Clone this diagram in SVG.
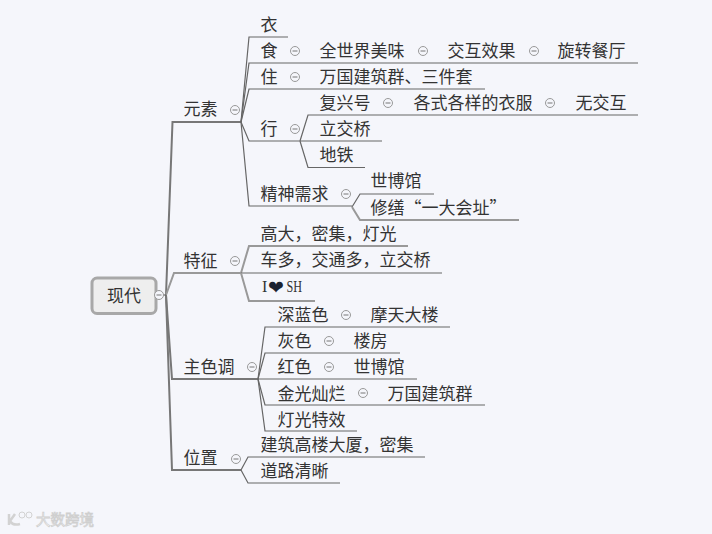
<svg xmlns="http://www.w3.org/2000/svg" width="712" height="534" viewBox="0 0 712 534">
<style>
text{font-family:"Noto Sans CJK SC","Liberation Sans",sans-serif;font-size:17px;fill:#333}
.c{fill:none;stroke:#666;stroke-width:1.2}
.g{fill:none;stroke:#999;stroke-width:2}
.m{fill:none;stroke:#777;stroke-width:2}
.k{fill:#f5f6fb;stroke:#999;stroke-width:1}
.k2{fill:none;stroke:#777;stroke-width:1}
</style>
<defs>
<g id="col"><circle r="4.5" class="k"/><path d="M-2.500 0H2.500" class="k2"/></g>
</defs>
<rect width="712" height="534" fill="#f5f6fb"/>
<g id="connectors">
<path class="m" d="M166 295L172.500 122H241"/>
<path class="g" d="M166 295L174 273H241"/>
<path class="m" d="M166 295L172 379H258"/>
<path class="m" d="M166 295L172 470H241"/>
<path class="c" d="M160 295H166"/>
<path class="c" d="M241 122L249 37H288"/>
<path class="c" d="M241 122L249 63H638"/>
<path class="c" d="M241 122L249 89H485"/>
<path class="c" d="M241 122L249 141H300"/>
<path class="c" d="M241 122L249 206H352"/>
<path class="c" d="M300 141L308 115H638"/>
<path class="c" d="M300 141H382"/>
<path class="c" d="M300 141L308 167.500H365"/>
<path class="c" d="M352 207L360 194H434"/>
<path class="g" d="M352 207L360 220H519"/>
<path class="g" d="M241 273L249 246H408"/>
<path class="c" d="M241 273H442"/>
<path class="g" d="M241 273L249 301H315"/>
<path class="c" d="M258 379L265 327H450"/>
<path class="c" d="M258 379L265 353H400"/>
<path class="c" d="M258 379H417"/>
<path class="c" d="M258 379L265 405H485"/>
<path class="c" d="M258 379L265 431H357"/>
<path class="c" d="M241 470L248 457H425"/>
<path class="c" d="M241 470L248 483H340"/>
</g>
<g id="root"><rect x="92" y="278" width="64" height="35.500" rx="5" fill="#eeeeee" stroke="#a8a8a8" stroke-width="3"/><text x="107" y="302" lang="zh-CN">现代</text><use href="#col" x="159" y="295"/></g>
<g id="n-yuansu"><text x="183.500" y="115" lang="zh-CN">元素</text><use href="#col" x="235" y="110"/></g>
<g id="n-yi"><text x="260.500" y="31" lang="zh-CN">衣</text></g>
<g id="n-shi"><text x="260.500" y="57" lang="zh-CN">食</text><use href="#col" x="295" y="51"/></g>
<g id="n-shi1"><text x="319.500" y="57" lang="zh-CN">全世界美味</text><use href="#col" x="423" y="51"/></g>
<g id="n-shi2"><text x="447.500" y="57" lang="zh-CN">交互效果</text><use href="#col" x="534" y="51"/></g>
<g id="n-shi3"><text x="557.500" y="57" lang="zh-CN">旋转餐厅</text></g>
<g id="n-zhu"><text x="260.500" y="83" lang="zh-CN">住</text><use href="#col" x="295" y="77"/></g>
<g id="n-zhu1"><text x="319.500" y="83" lang="zh-CN">万国建筑群、三件套</text></g>
<g id="n-xing"><text x="260.500" y="135" lang="zh-CN">行</text><use href="#col" x="295" y="129"/></g>
<g id="n-xing1"><text x="319.500" y="109" lang="zh-CN">复兴号</text><use href="#col" x="388" y="103"/></g>
<g id="n-xing2"><text x="413.500" y="109" lang="zh-CN">各式各样的衣服</text><use href="#col" x="550" y="103"/></g>
<g id="n-xing3"><text x="575.500" y="109" lang="zh-CN">无交互</text></g>
<g id="n-xing4"><text x="319.500" y="135" lang="zh-CN">立交桥</text></g>
<g id="n-xing5"><text x="319.500" y="161" lang="zh-CN">地铁</text></g>
<g id="n-jingshen"><text x="260.500" y="200" lang="zh-CN">精神需求</text><use href="#col" x="346" y="194"/></g>
<g id="n-js1"><text x="370.500" y="187" lang="zh-CN">世博馆</text></g>
<g id="n-js2"><text x="370.500" y="214" lang="zh-CN">修缮“一大会址”</text></g>
<g id="n-tezheng"><text x="183.500" y="267" lang="zh-CN">特征</text><use href="#col" x="235" y="261"/></g>
<g id="n-tz1"><text x="260.500" y="240" lang="zh-CN">高大，密集，灯光</text></g>
<g id="n-tz2"><text x="260.500" y="266" lang="zh-CN">车多，交通多，立交桥</text></g>
<g id="n-tz3"><text x="262" y="292" style="font-family:'Liberation Serif',serif;font-size:16px">I</text><text x="268" y="294" style="font-family:'DejaVu Sans',sans-serif;font-size:19px;fill:#1c2230">❤</text><text x="286.500" y="292" textLength="15.500" lengthAdjust="spacingAndGlyphs" style="font-family:'Liberation Serif',serif;font-size:16px">SH</text></g>
<g id="n-zhuse"><text x="183.500" y="373" lang="zh-CN">主色调</text><use href="#col" x="252" y="367"/></g>
<g id="n-zs1"><text x="277.500" y="321" lang="zh-CN">深蓝色</text><use href="#col" x="346" y="315"/></g>
<g id="n-zs1a"><text x="370.500" y="321" lang="zh-CN">摩天大楼</text></g>
<g id="n-zs2"><text x="277.500" y="347" lang="zh-CN">灰色</text><use href="#col" x="329" y="341"/></g>
<g id="n-zs2a"><text x="353.500" y="347" lang="zh-CN">楼房</text></g>
<g id="n-zs3"><text x="277.500" y="373" lang="zh-CN">红色</text><use href="#col" x="329" y="367"/></g>
<g id="n-zs3a"><text x="353.500" y="373" lang="zh-CN">世博馆</text></g>
<g id="n-zs4"><text x="277.500" y="399.500" lang="zh-CN">金光灿烂</text><use href="#col" x="363" y="393"/></g>
<g id="n-zs4a"><text x="387.500" y="399.500" lang="zh-CN">万国建筑群</text></g>
<g id="n-zs5"><text x="277.500" y="425.500" lang="zh-CN">灯光特效</text></g>
<g id="n-weizhi"><text x="183.500" y="464" lang="zh-CN">位置</text><use href="#col" x="236" y="459"/></g>
<g id="n-wz1"><text x="260.500" y="451" lang="zh-CN">建筑高楼大厦，密集</text></g>
<g id="n-wz2"><text x="260.500" y="477" lang="zh-CN">道路清晰</text></g>
<g id="watermark">
<path d="M9 514V525M10 521L15 514M10 521Q13 526 20 524" fill="none" stroke="#d2d2d2" stroke-width="2.500"/>
<circle cx="22" cy="515" r="3" fill="none" stroke="#d2d2d2"/><circle cx="29" cy="515" r="3" fill="none" stroke="#d2d2d2"/>
<text x="36" y="525" style="font-size:14.500px;fill:#fff;stroke:#cfcfcf;stroke-width:0.800" lang="zh-CN">大数跨境</text>
</g>
</svg>
